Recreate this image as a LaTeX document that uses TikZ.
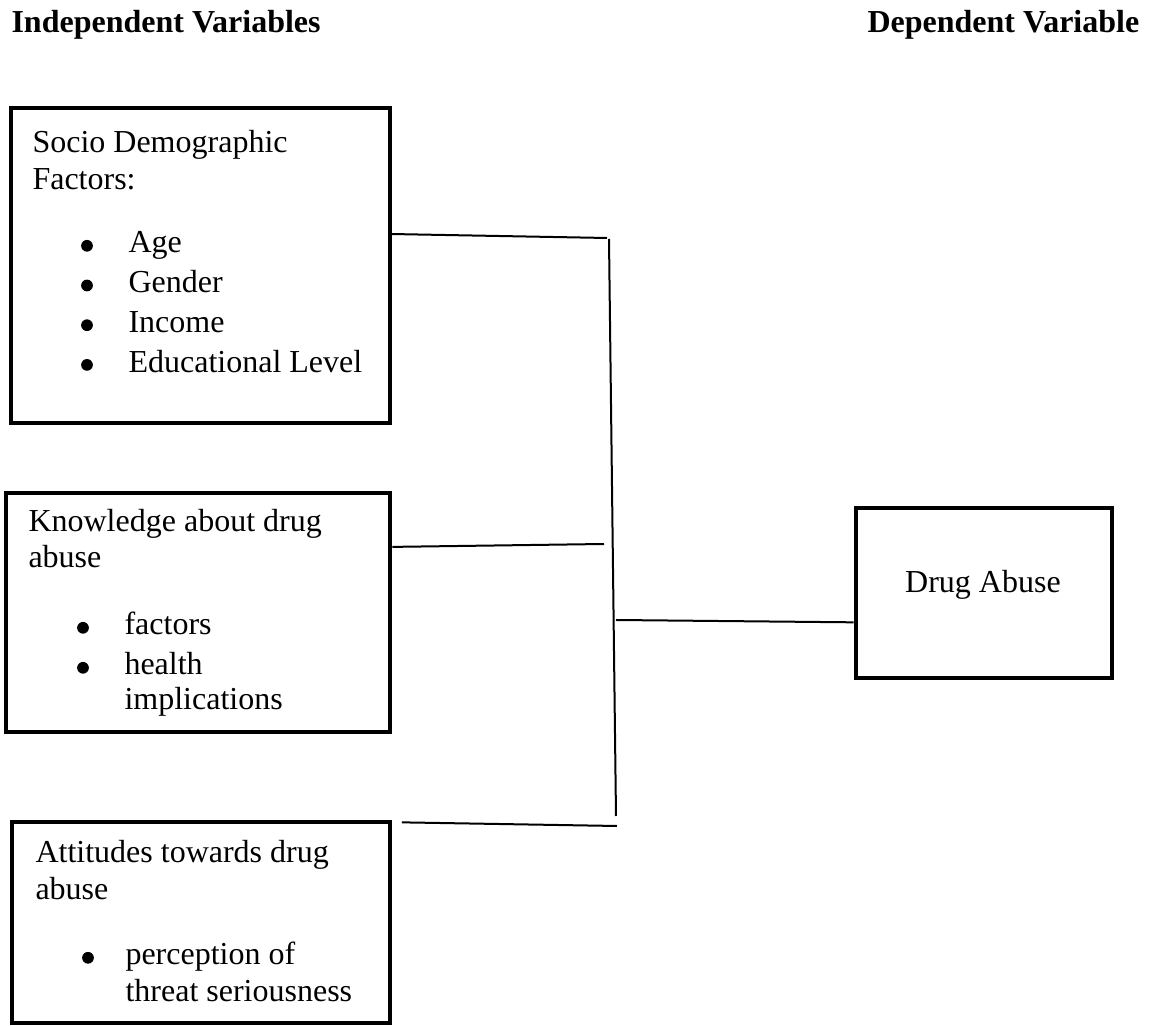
\documentclass[tikz,border=0pt]{standalone}
\usepackage{fontspec}
\setmainfont{Liberation Serif}
\usetikzlibrary{calc}

\tikzset{
  varbox/.style={draw, line width=1.7pt, inner sep=0pt},
  link/.style={line width=0.75pt},
  txt/.style={anchor=base west, inner sep=0pt},
  dot/.style={circle, fill, inner sep=0pt, minimum size=4.4pt, yshift=2.7pt},
  head/.style={anchor=base west, inner sep=0pt, font=\fontsize{12}{14}\selectfont\bfseries}
}

\begin{document}
\begin{tikzpicture}[x=0.375pt, y=-0.375pt, font=\fontsize{12}{14}\selectfont]
\useasboundingbox (0,0) rectangle (1152,1026);

\node[head] (hind) at (11,33) {Independent Variables};
\node[head] (hdep) at (867,33) {Dependent Variable};

\node[varbox, minimum width=142.1pt, minimum height=118.1pt] (socio) at (200.5,265.5) {};
\node[varbox, minimum width=144pt, minimum height=89.6pt] (know) at (198,612.5) {};
\node[varbox, minimum width=141.75pt, minimum height=75.4pt] (att) at (201,922.5) {};
\node[varbox, minimum width=96pt, minimum height=63.75pt] (drug) at (984,593) {};

\node[txt] (s1) at (32,153) {Socio Demographic};
\node[txt] (s2) at (32,190) {Factors:};
\foreach \t [count=\i] in {Age,Gender,Income,Educational Level}{
  \node[dot] (sd\i) at (87,213.3+39.7*\i) {};
  \node[txt] (si\i) at (128,213.3+39.7*\i) {\t};
}

\node[txt] (k1) at (28,532) {Knowledge about drug};
\node[txt] (k2) at (28,568) {abuse};
\node[dot] (kd1) at (83,635) {};
\node[txt] (ki1) at (124,635) {factors};
\node[dot] (kd2) at (83,675) {};
\node[txt] (ki2) at (124,675) {health};
\node[txt] (ki3) at (124,710) {implications};

\node[txt] (a1) at (35,863) {Attitudes towards drug};
\node[txt] (a2) at (35,900) {abuse};
\node[dot] (ad1) at (88,965) {};
\node[txt] (ai1) at (125,965) {perception of};
\node[txt] (ai2) at (125,1002) {threat seriousness};

\node[anchor=base, inner sep=0pt] (dtxt) at (983,593) {Drug Abuse};

\coordinate (jtop) at (609,239);
\coordinate (jbot) at (616,816);
\coordinate (j1) at (607,238);
\coordinate (j2) at (604,544);
\coordinate (j3) at (617,826);
\coordinate (j4) at (616,620);

\draw[link] (jtop) -- (jbot);
\draw[link] ([yshift=11.8pt]socio.east) -- (j1);
\draw[link] ([yshift=24.6pt]know.east) -- (j2);
\draw[link] ([xshift=3.6pt,yshift=-1pt]att.north east) -- (j3);
\draw[link] (j4) -- ([yshift=-11pt]drug.west);
\end{tikzpicture}
\end{document}
